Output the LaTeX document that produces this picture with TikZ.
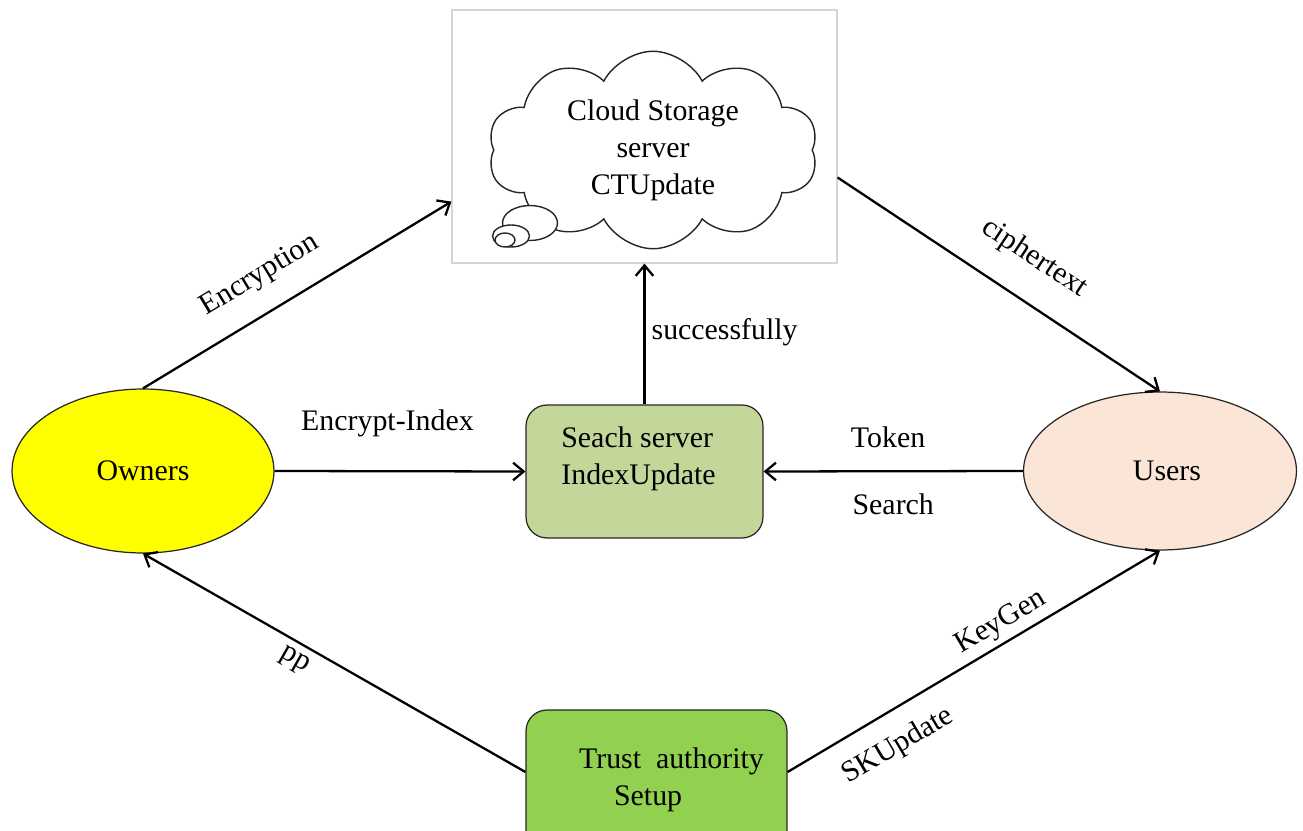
\documentclass[tikz,border=0pt]{standalone}
\usepackage{fontspec}
\setmainfont{Liberation Serif}
\usetikzlibrary{arrows.meta,shapes.geometric,shapes.symbols,calc}
\definecolor{ownerfill}{HTML}{FFFF00}
\definecolor{userfill}{HTML}{FBE5D6}
\definecolor{searchfill}{HTML}{C4D79B}
\definecolor{trustfill}{HTML}{92D050}
\definecolor{boxgray}{HTML}{D6D6CC}
\begin{document}
\begin{tikzpicture}[x=0.02cm,y=-0.02cm,
  every node/.style={font=\fontsize{17}{21}\selectfont},
  conn/.style={line width=1.3pt,-{Straight Barb[length=6pt,width=10pt]}},
  connrev/.style={line width=1.3pt,{Straight Barb[length=6pt,width=10pt]}-},
  lbl/.style={inner sep=0pt},
  oval/.style={ellipse,draw=black!85,line width=0.7pt,inner sep=0pt},
  roundbox/.style={rectangle,rounded corners=0.42cm,draw=black!85,line width=0.7pt,inner sep=0pt},
  bubble/.style={draw=black!85,line width=0.8pt,fill=white}]
\clip (0,0) rectangle (1303,831);
\fill[white] (0,0) rectangle (1303,831);

% cloud server frame and cloud
\node[rectangle,draw=boxgray,line width=0.7pt,fill=white,minimum width=7.7cm,minimum height=5.06cm,inner sep=0pt] (cloudbox) at (644.5,136.5) {};
\node[cloud,cloud puffs=10,cloud puff arc=125,aspect=1.65,draw=black!85,line width=0.8pt,fill=white,
      minimum width=6.6cm,minimum height=3.95cm,inner sep=0pt,align=center] (cloud) at (653,150)
      {Cloud Storage\\server\\CTUpdate};
\draw[bubble] (530,223) ellipse [x radius=0.55cm,y radius=0.35cm];
\draw[bubble] (511,236) ellipse [x radius=0.37cm,y radius=0.22cm];
\draw[bubble] (505,240) ellipse [x radius=0.2cm,y radius=0.14cm];

% main nodes
\node[oval,fill=ownerfill,minimum width=5.24cm,minimum height=3.28cm] (owners) at (143,471) {Owners};
\node[oval,fill=userfill,minimum width=5.46cm,minimum height=3.16cm] (users) at (1160,471) {\hspace*{0.28cm}Users};
\node[roundbox,fill=searchfill,minimum width=4.74cm,minimum height=2.66cm] (search) at (644.5,471.5) {};
\node[lbl,align=left] (searchtext) at ([xshift=-0.12cm,yshift=0.26cm]search.center) {Seach server\\IndexUpdate};
\node[roundbox,fill=trustfill,minimum width=5.22cm,minimum height=3cm] (trust) at (656.5,785) {};
\node[lbl,align=left] (trusttext) at ([xshift=0.3cm,yshift=0.1cm]trust.center) {Trust\ \ authority\\\hspace*{0.7cm}Setup};

% connectors
\draw[conn] (owners.north) -- node[lbl,sloped,pos=0.44,yshift=0.72cm] {Encryption} ([yshift=1.24cm]cloudbox.south west);
\draw[conn] ([yshift=-0.82cm]cloudbox.east) -- node[lbl,sloped,pos=0.54,yshift=0.83cm] {ciphertext} (users.north);
\draw[conn] (search.north) -- node[lbl,pos=0.51,anchor=west,xshift=0.12cm] {successfully} (cloudbox.south);
\draw[conn] (owners.east) -- node[lbl,pos=0.45,yshift=0.96cm] {Encrypt-Index} (search.west);
\draw[conn] (users.west) -- node[lbl,pos=0.52,yshift=0.68cm] {Token} node[lbl,pos=0.50,yshift=-0.66cm] {Search} (search.east);
\draw[connrev] (owners.south) -- node[lbl,sloped,pos=0.42,yshift=-0.36cm] {pp} ([yshift=0.26cm]trust.west);
\draw[conn] ([yshift=0.26cm]trust.east) -- node[lbl,sloped,pos=0.6,yshift=0.38cm] {KeyGen} node[lbl,sloped,pos=0.25,yshift=-0.68cm] {SKUpdate} (users.south);
\end{tikzpicture}
\end{document}
